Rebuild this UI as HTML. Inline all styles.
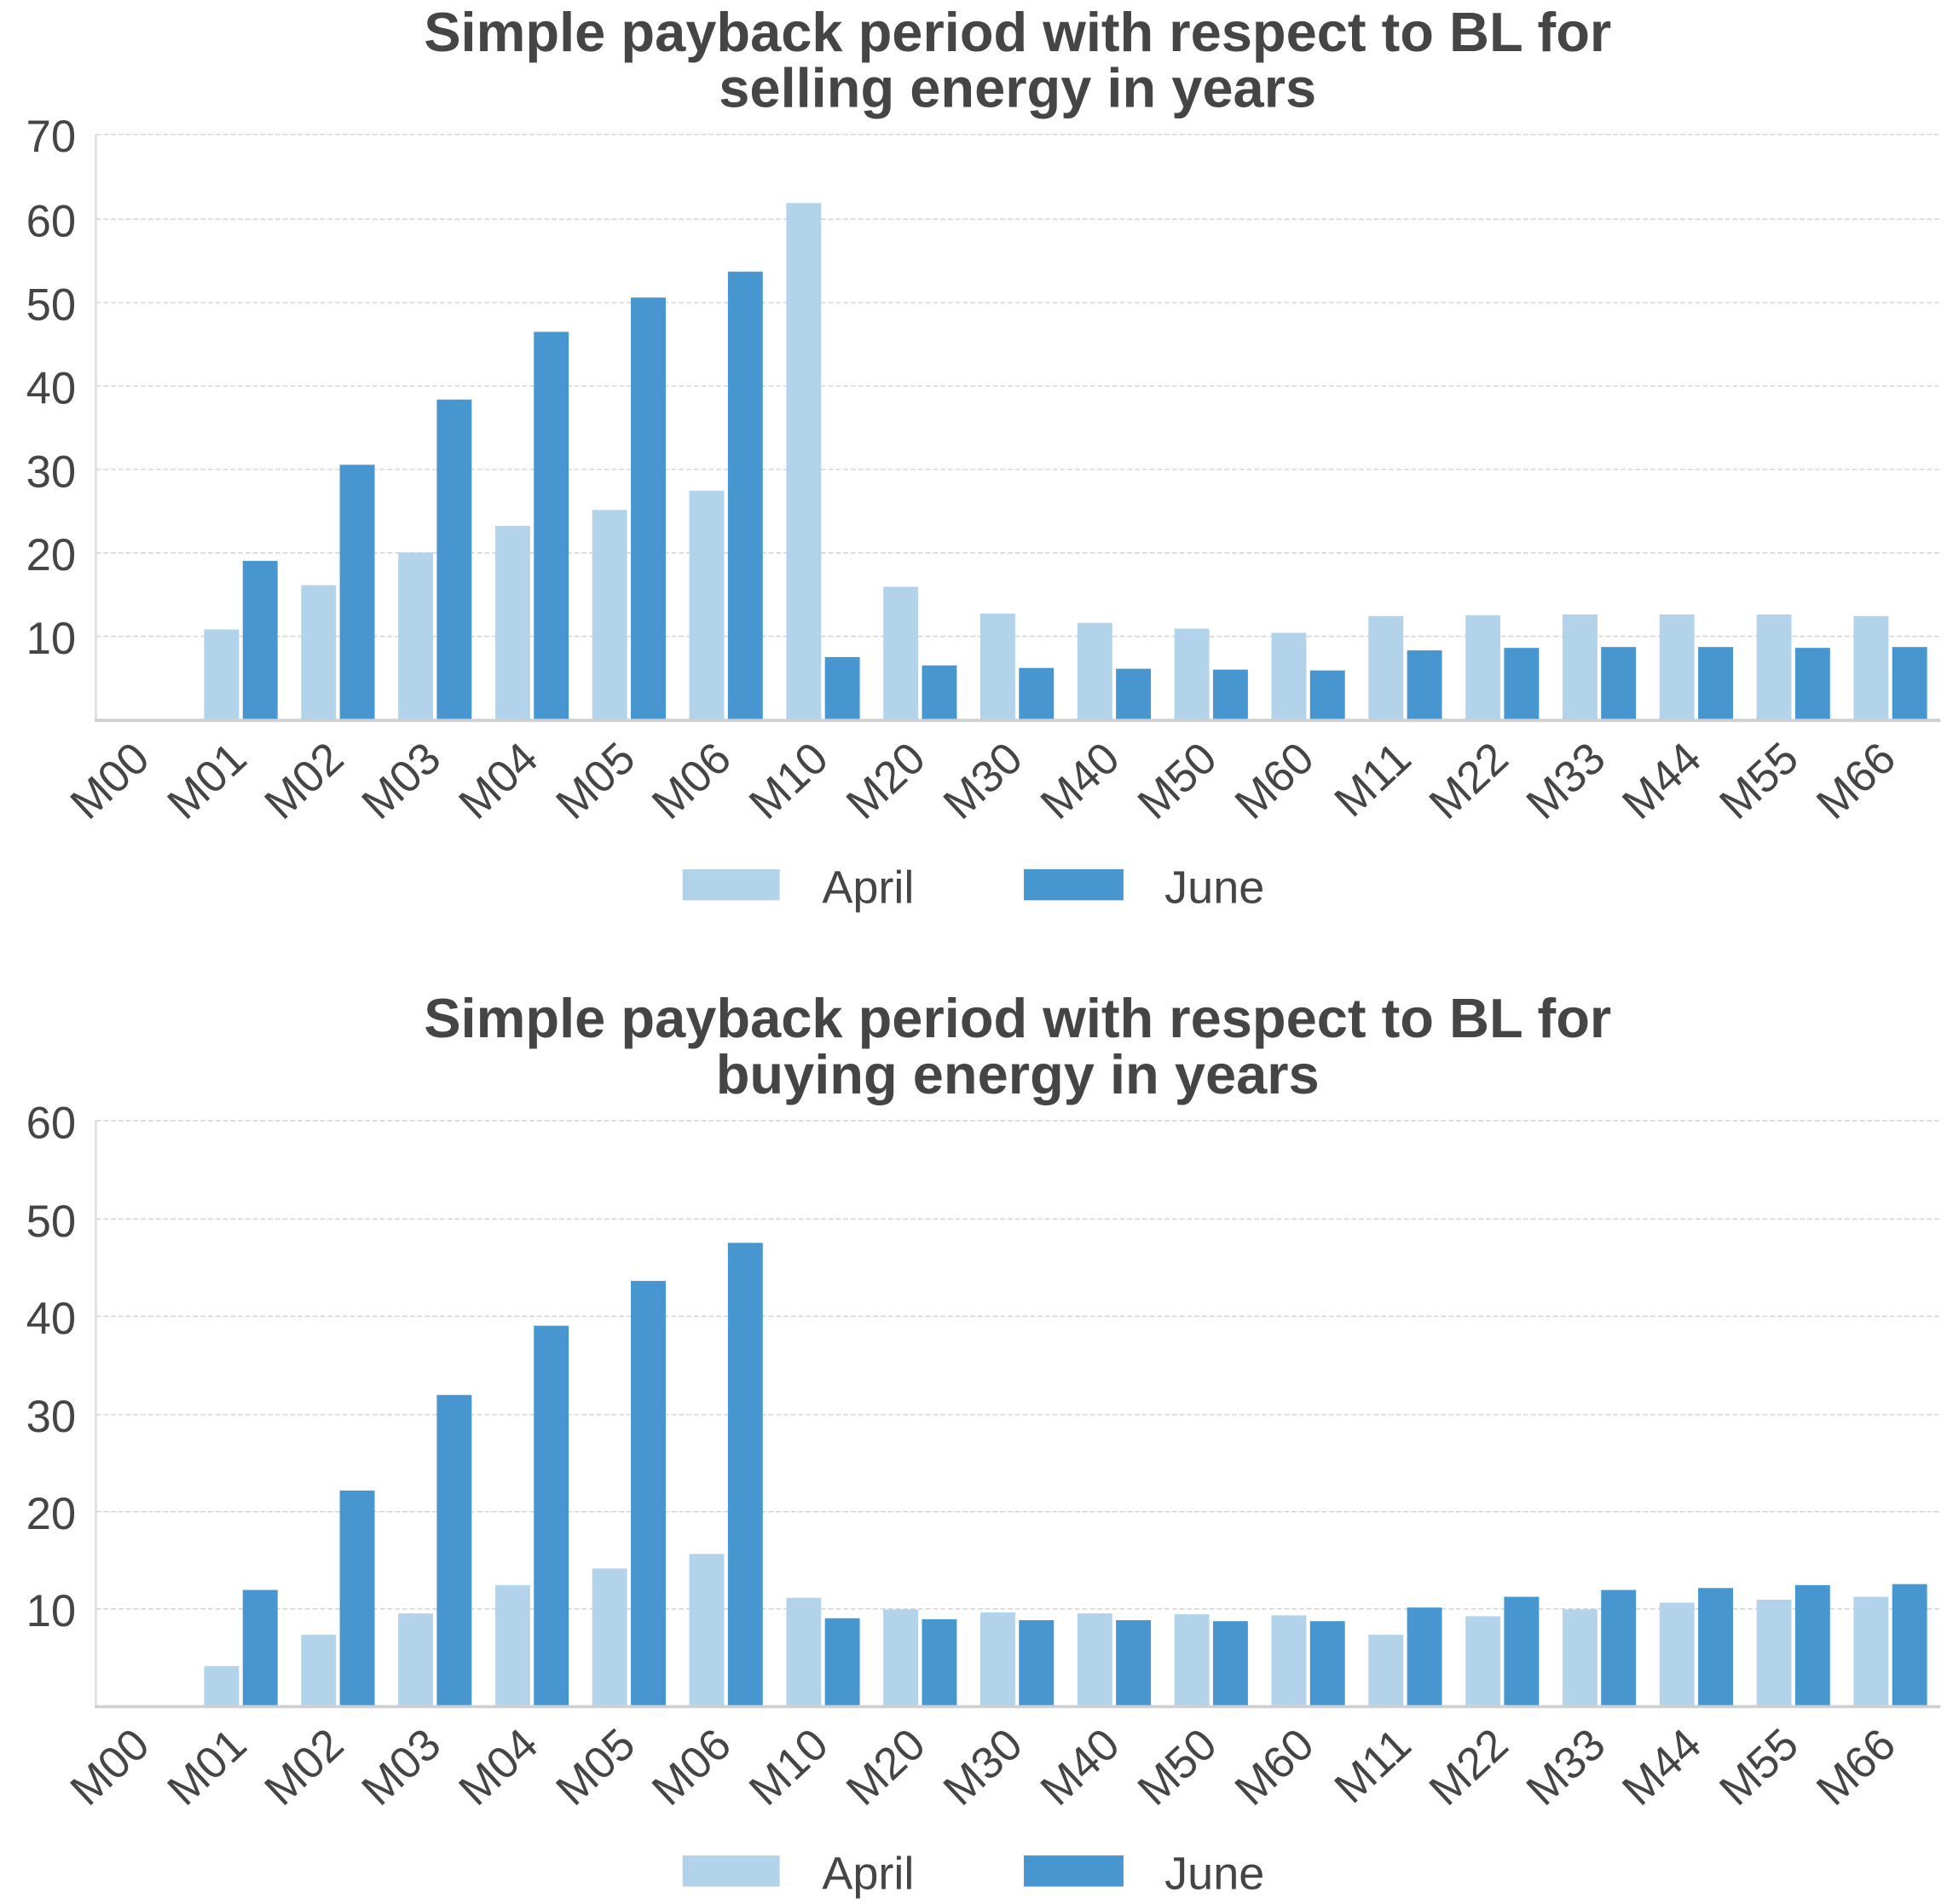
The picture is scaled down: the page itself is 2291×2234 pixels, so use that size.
<!DOCTYPE html>
<html><head><meta charset="utf-8"><style>html,body{margin:0;padding:0;background:#fff}svg{display:block}</style></head><body>
<svg width="2291" height="2234" viewBox="0 0 1568 1529" preserveAspectRatio="none" xmlns="http://www.w3.org/2000/svg" font-family="Liberation Sans, Arial, sans-serif" fill="#454545">
<rect width="1568" height="1529" fill="#fff"/>
<!-- Chart 1 -->
<text x="817" y="41" font-size="44.5" font-weight="bold" text-anchor="middle">Simple payback period with respect to BL for</text>
<text x="817" y="86" font-size="44.5" font-weight="bold" text-anchor="middle">selling energy in years</text>
<g stroke="#d4d4d4" stroke-dasharray="4,2" stroke-width="1">
<line x1="77" x2="1557" y1="108" y2="108"/><line x1="77" x2="1557" y1="176" y2="176"/><line x1="77" x2="1557" y1="243" y2="243"/><line x1="77" x2="1557" y1="310" y2="310"/><line x1="77" x2="1557" y1="377" y2="377"/><line x1="77" x2="1557" y1="444" y2="444"/><line x1="77" x2="1557" y1="511" y2="511"/>
</g>
<g font-size="36" text-anchor="end">
<text x="61" y="122">70</text><text x="61" y="190">60</text><text x="61" y="257">50</text><text x="61" y="324">40</text><text x="61" y="391">30</text><text x="61" y="458">20</text><text x="61" y="525">10</text>
</g>
<g transform="translate(0,578) scale(1,-6.714)">
<g fill="#b3d3ea">
<rect x="163.9" width="28" height="10.8"/><rect x="241.8" width="28" height="16.1"/><rect x="319.7" width="28" height="20"/><rect x="397.6" width="28" height="23.2"/><rect x="475.5" width="28" height="25.1"/><rect x="553.4" width="28" height="27.4"/><rect x="631.3" width="28" height="61.8"/><rect x="709.2" width="28" height="15.9"/><rect x="787.1" width="28" height="12.7"/><rect x="865" width="28" height="11.6"/><rect x="942.9" width="28" height="10.9"/><rect x="1020.8" width="28" height="10.4"/><rect x="1098.7" width="28" height="12.4"/><rect x="1176.6" width="28" height="12.5"/><rect x="1254.5" width="28" height="12.6"/><rect x="1332.4" width="28" height="12.6"/><rect x="1410.3" width="28" height="12.6"/><rect x="1488.2" width="28" height="12.4"/>
</g>
<g fill="#4896cf">
<rect x="194.9" width="28" height="19"/><rect x="272.8" width="28" height="30.5"/><rect x="350.7" width="28" height="38.3"/><rect x="428.6" width="28" height="46.4"/><rect x="506.5" width="28" height="50.5"/><rect x="584.4" width="28" height="53.6"/><rect x="662.3" width="28" height="7.5"/><rect x="740.2" width="28" height="6.5"/><rect x="818.1" width="28" height="6.2"/><rect x="896" width="28" height="6.1"/><rect x="973.9" width="28" height="6.0"/><rect x="1051.8" width="28" height="5.9"/><rect x="1129.7" width="28" height="8.3"/><rect x="1207.6" width="28" height="8.6"/><rect x="1285.5" width="28" height="8.7"/><rect x="1363.4" width="28" height="8.7"/><rect x="1441.3" width="28" height="8.6"/><rect x="1519.2" width="28" height="8.7"/>
</g>
</g>
<line x1="77" x2="77" y1="108" y2="579" stroke="#d8d8d8" stroke-width="1.5"/>
<line x1="76" x2="1558" y1="578.5" y2="578.5" stroke="#cfcfcf" stroke-width="2.5"/>
<g font-size="36" text-anchor="end">
<text transform="translate(122,612) rotate(-43)">M00</text><text transform="translate(200,612) rotate(-43)">M01</text><text transform="translate(278,612) rotate(-43)">M02</text><text transform="translate(356,612) rotate(-43)">M03</text><text transform="translate(434,612) rotate(-43)">M04</text><text transform="translate(512,612) rotate(-43)">M05</text><text transform="translate(589,612) rotate(-43)">M06</text><text transform="translate(667,612) rotate(-43)">M10</text><text transform="translate(745,612) rotate(-43)">M20</text><text transform="translate(823,612) rotate(-43)">M30</text><text transform="translate(901,612) rotate(-43)">M40</text><text transform="translate(979,612) rotate(-43)">M50</text><text transform="translate(1057,612) rotate(-43)">M60</text><text transform="translate(1135,612) rotate(-43)">M11</text><text transform="translate(1213,612) rotate(-43)">M22</text><text transform="translate(1291,612) rotate(-43)">M33</text><text transform="translate(1368,612) rotate(-43)">M44</text><text transform="translate(1446,612) rotate(-43)">M55</text><text transform="translate(1524,612) rotate(-43)">M66</text>
</g>
<rect x="548" y="698" width="78" height="25" fill="#b3d3ea"/><text x="660" y="725" font-size="37">April</text>
<rect x="822" y="698" width="80" height="25" fill="#4896cf"/><text x="935" y="725" font-size="37">June</text>

<!-- Chart 2 -->
<text x="817" y="833" font-size="44.5" font-weight="bold" text-anchor="middle">Simple payback period with respect to BL for</text>
<text x="817" y="878" font-size="44.5" font-weight="bold" text-anchor="middle">buying energy in years</text>
<g stroke="#d4d4d4" stroke-dasharray="4,2" stroke-width="1">
<line x1="77" x2="1557" y1="900" y2="900"/><line x1="77" x2="1557" y1="979" y2="979"/><line x1="77" x2="1557" y1="1057" y2="1057"/><line x1="77" x2="1557" y1="1136" y2="1136"/><line x1="77" x2="1557" y1="1214" y2="1214"/><line x1="77" x2="1557" y1="1292" y2="1292"/>
</g>
<g font-size="36" text-anchor="end">
<text x="61" y="914">60</text><text x="61" y="993">50</text><text x="61" y="1071">40</text><text x="61" y="1150">30</text><text x="61" y="1228">20</text><text x="61" y="1306">10</text>
</g>
<g transform="translate(0,1370) scale(1,-7.83)">
<g fill="#b3d3ea">
<rect x="163.9" width="28" height="4.1"/><rect x="241.8" width="28" height="7.3"/><rect x="319.7" width="28" height="9.5"/><rect x="397.6" width="28" height="12.4"/><rect x="475.5" width="28" height="14.1"/><rect x="553.4" width="28" height="15.6"/><rect x="631.3" width="28" height="11.1"/><rect x="709.2" width="28" height="9.9"/><rect x="787.1" width="28" height="9.6"/><rect x="865" width="28" height="9.5"/><rect x="942.9" width="28" height="9.4"/><rect x="1020.8" width="28" height="9.3"/><rect x="1098.7" width="28" height="7.3"/><rect x="1176.6" width="28" height="9.2"/><rect x="1254.5" width="28" height="9.9"/><rect x="1332.4" width="28" height="10.6"/><rect x="1410.3" width="28" height="10.9"/><rect x="1488.2" width="28" height="11.2"/>
</g>
<g fill="#4896cf">
<rect x="194.9" width="28" height="11.9"/><rect x="272.8" width="28" height="22.1"/><rect x="350.7" width="28" height="31.9"/><rect x="428.6" width="28" height="39.0"/><rect x="506.5" width="28" height="43.6"/><rect x="584.4" width="28" height="47.5"/><rect x="662.3" width="28" height="9.0"/><rect x="740.2" width="28" height="8.9"/><rect x="818.1" width="28" height="8.8"/><rect x="896" width="28" height="8.8"/><rect x="973.9" width="28" height="8.7"/><rect x="1051.8" width="28" height="8.7"/><rect x="1129.7" width="28" height="10.1"/><rect x="1207.6" width="28" height="11.2"/><rect x="1285.5" width="28" height="11.9"/><rect x="1363.4" width="28" height="12.1"/><rect x="1441.3" width="28" height="12.4"/><rect x="1519.2" width="28" height="12.5"/>
</g>
</g>
<line x1="77" x2="77" y1="900" y2="1371" stroke="#d8d8d8" stroke-width="1.5"/>
<line x1="76" x2="1558" y1="1370.5" y2="1370.5" stroke="#cfcfcf" stroke-width="2.5"/>
<g font-size="36" text-anchor="end">
<text transform="translate(122,1404) rotate(-43)">M00</text><text transform="translate(200,1404) rotate(-43)">M01</text><text transform="translate(278,1404) rotate(-43)">M02</text><text transform="translate(356,1404) rotate(-43)">M03</text><text transform="translate(434,1404) rotate(-43)">M04</text><text transform="translate(512,1404) rotate(-43)">M05</text><text transform="translate(589,1404) rotate(-43)">M06</text><text transform="translate(667,1404) rotate(-43)">M10</text><text transform="translate(745,1404) rotate(-43)">M20</text><text transform="translate(823,1404) rotate(-43)">M30</text><text transform="translate(901,1404) rotate(-43)">M40</text><text transform="translate(979,1404) rotate(-43)">M50</text><text transform="translate(1057,1404) rotate(-43)">M60</text><text transform="translate(1135,1404) rotate(-43)">M11</text><text transform="translate(1213,1404) rotate(-43)">M22</text><text transform="translate(1291,1404) rotate(-43)">M33</text><text transform="translate(1368,1404) rotate(-43)">M44</text><text transform="translate(1446,1404) rotate(-43)">M55</text><text transform="translate(1524,1404) rotate(-43)">M66</text>
</g>
<rect x="548" y="1490" width="78" height="25" fill="#b3d3ea"/><text x="660" y="1517" font-size="37">April</text>
<rect x="822" y="1490" width="80" height="25" fill="#4896cf"/><text x="935" y="1517" font-size="37">June</text>
</svg>
</body></html>
